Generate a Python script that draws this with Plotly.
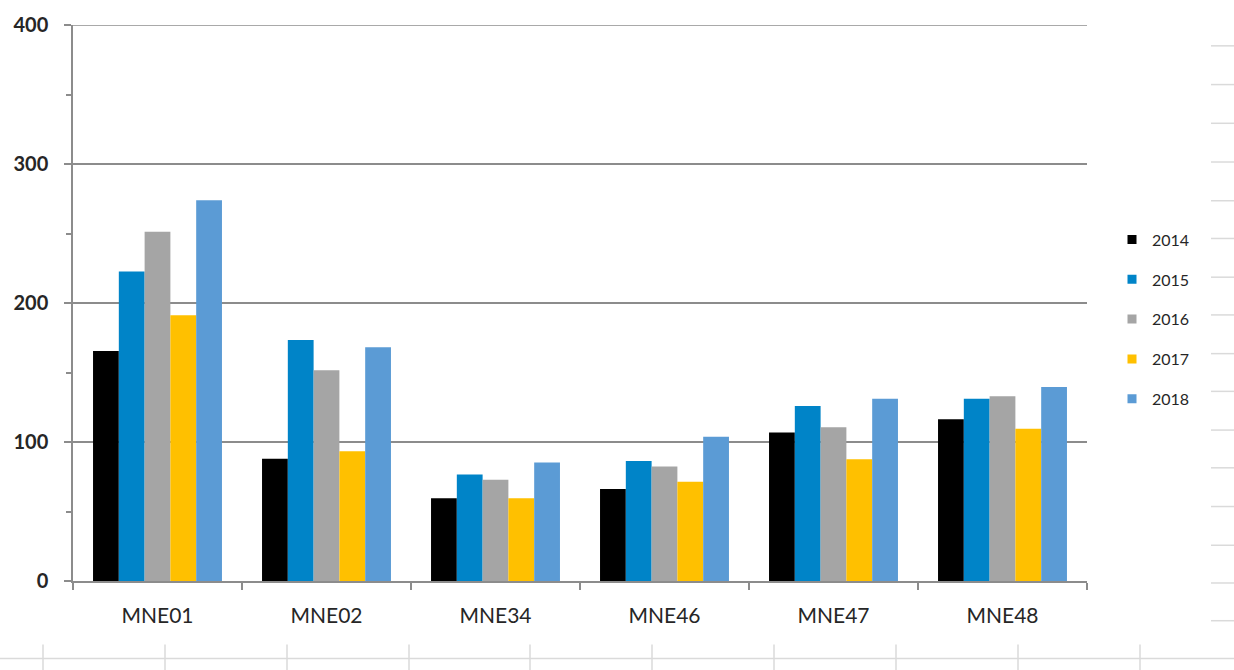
import plotly.graph_objects as go

categories = ["MNE01", "MNE02", "MNE34", "MNE46", "MNE47", "MNE48"]
years = ["2014", "2015", "2016", "2017", "2018"]
v2014 = [165.5, 87.9, 59.5, 66.2, 106.9, 116.4]
v2015 = [222.6, 173.4, 76.7, 86.4, 125.9, 131.2]
v2016 = [251.2, 151.7, 72.9, 82.4, 110.7, 132.9]
v2017 = [191.2, 93.3, 59.5, 71.4, 87.6, 109.5]
v2018 = [274.0, 168.1, 85.2, 103.8, 131.2, 139.5]
series = [v2014, v2015, v2016, v2017, v2018]
colors = ["#000000", "#0084C8", "#A5A5A5", "#FFC000", "#5B9BD5"]
y_max = 400

W, H = 1234, 670
L, R, T, B = 73, 1087, 21, 581

fig = go.Figure()
for name, vals, col in zip(years, series, colors):
    fig.add_trace(go.Bar(
        x=categories, y=vals, name=name, legendgroup=name, showlegend=False,
        marker=dict(color=col, line=dict(width=0)),
    ))
# legend entries with small square swatches
for name, col in zip(years, colors):
    fig.add_trace(go.Scatter(
        x=[None], y=[None], mode="markers", name=name, legendgroup=name,
        marker=dict(symbol="square", size=9, color=col),
        showlegend=True, hoverinfo="skip",
    ))

def px_x(p):
    return (p - L) / (R - L)

def px_y(p):
    return (B - p) / (B - T)

grid_col = "#DADADA"
axis_col = "#8C8C8C"
shapes = []
# top gridline (at range edge, which plotly omits)
shapes.append(dict(type="line", xref="paper", yref="y",
                   x0=0, x1=1, y0=y_max, y1=y_max,
                   line=dict(color=axis_col, width=1.5)))
# spreadsheet cell borders visible behind the chart
shapes.append(dict(type="line", xref="paper", yref="paper",
                   x0=px_x(0), x1=px_x(W), y0=px_y(659), y1=px_y(659),
                   line=dict(color=grid_col, width=1.5)))
for xv in [43, 165, 287, 409, 530, 652, 774, 896, 1018, 1140]:
    shapes.append(dict(type="line", xref="paper", yref="paper",
                       x0=px_x(xv), x1=px_x(xv), y0=px_y(645), y1=px_y(W),
                       line=dict(color=grid_col, width=1.5)))
for yv in [42, 81, 120, 159, 198, 236, 275, 313, 352, 390, 429, 467, 506, 545, 583, 621]:
    shapes.append(dict(type="line", xref="paper", yref="paper",
                       x0=px_x(1211), x1=px_x(W), y0=px_y(yv), y1=px_y(yv),
                       line=dict(color=grid_col, width=1.5)))

fig.update_layout(
    width=W, height=H,
    margin=dict(l=L, r=W - R, t=T, b=H - B, pad=0),
    paper_bgcolor="white", plot_bgcolor="white",
    barmode="group", bargap=0.237, bargroupgap=0,
    font=dict(family="Lato, Liberation Sans, sans-serif", color="#262626"),
    shapes=shapes,
    showlegend=True,
    legend=dict(
        x=px_x(1112), y=px_y(220), xanchor="left", yanchor="top",
        font=dict(size=16, color="#262626"),
        tracegroupgap=16, bgcolor="rgba(0,0,0,0)", borderwidth=0,
        itemwidth=30,
    ),
    xaxis=dict(
        showline=True, linecolor=axis_col, linewidth=1.5,
        ticks="outside", ticklen=7, tickcolor=axis_col, tickwidth=1.5,
        tickson="boundaries", showgrid=False,
        tickfont=dict(size=21, color="#262626"),
        ticklabelstandoff=15,
    ),
    yaxis=dict(
        range=[0, y_max], tickvals=[0, 100, 200, 300, 400],
        showline=True, linecolor=axis_col, linewidth=1.5,
        ticks="outside", ticklen=7, tickcolor=axis_col, tickwidth=1.5,
        showgrid=True, gridcolor=axis_col, gridwidth=1.5,
        zeroline=False,
        minor=dict(dtick=50, tick0=0, ticks="outside", ticklen=5,
                   tickcolor=axis_col, tickwidth=1.5, showgrid=False),
        tickfont=dict(size=20, color="#262626", weight="bold"),
        ticklabelstandoff=12,
    ),
)

fig.write_html("out.html")
